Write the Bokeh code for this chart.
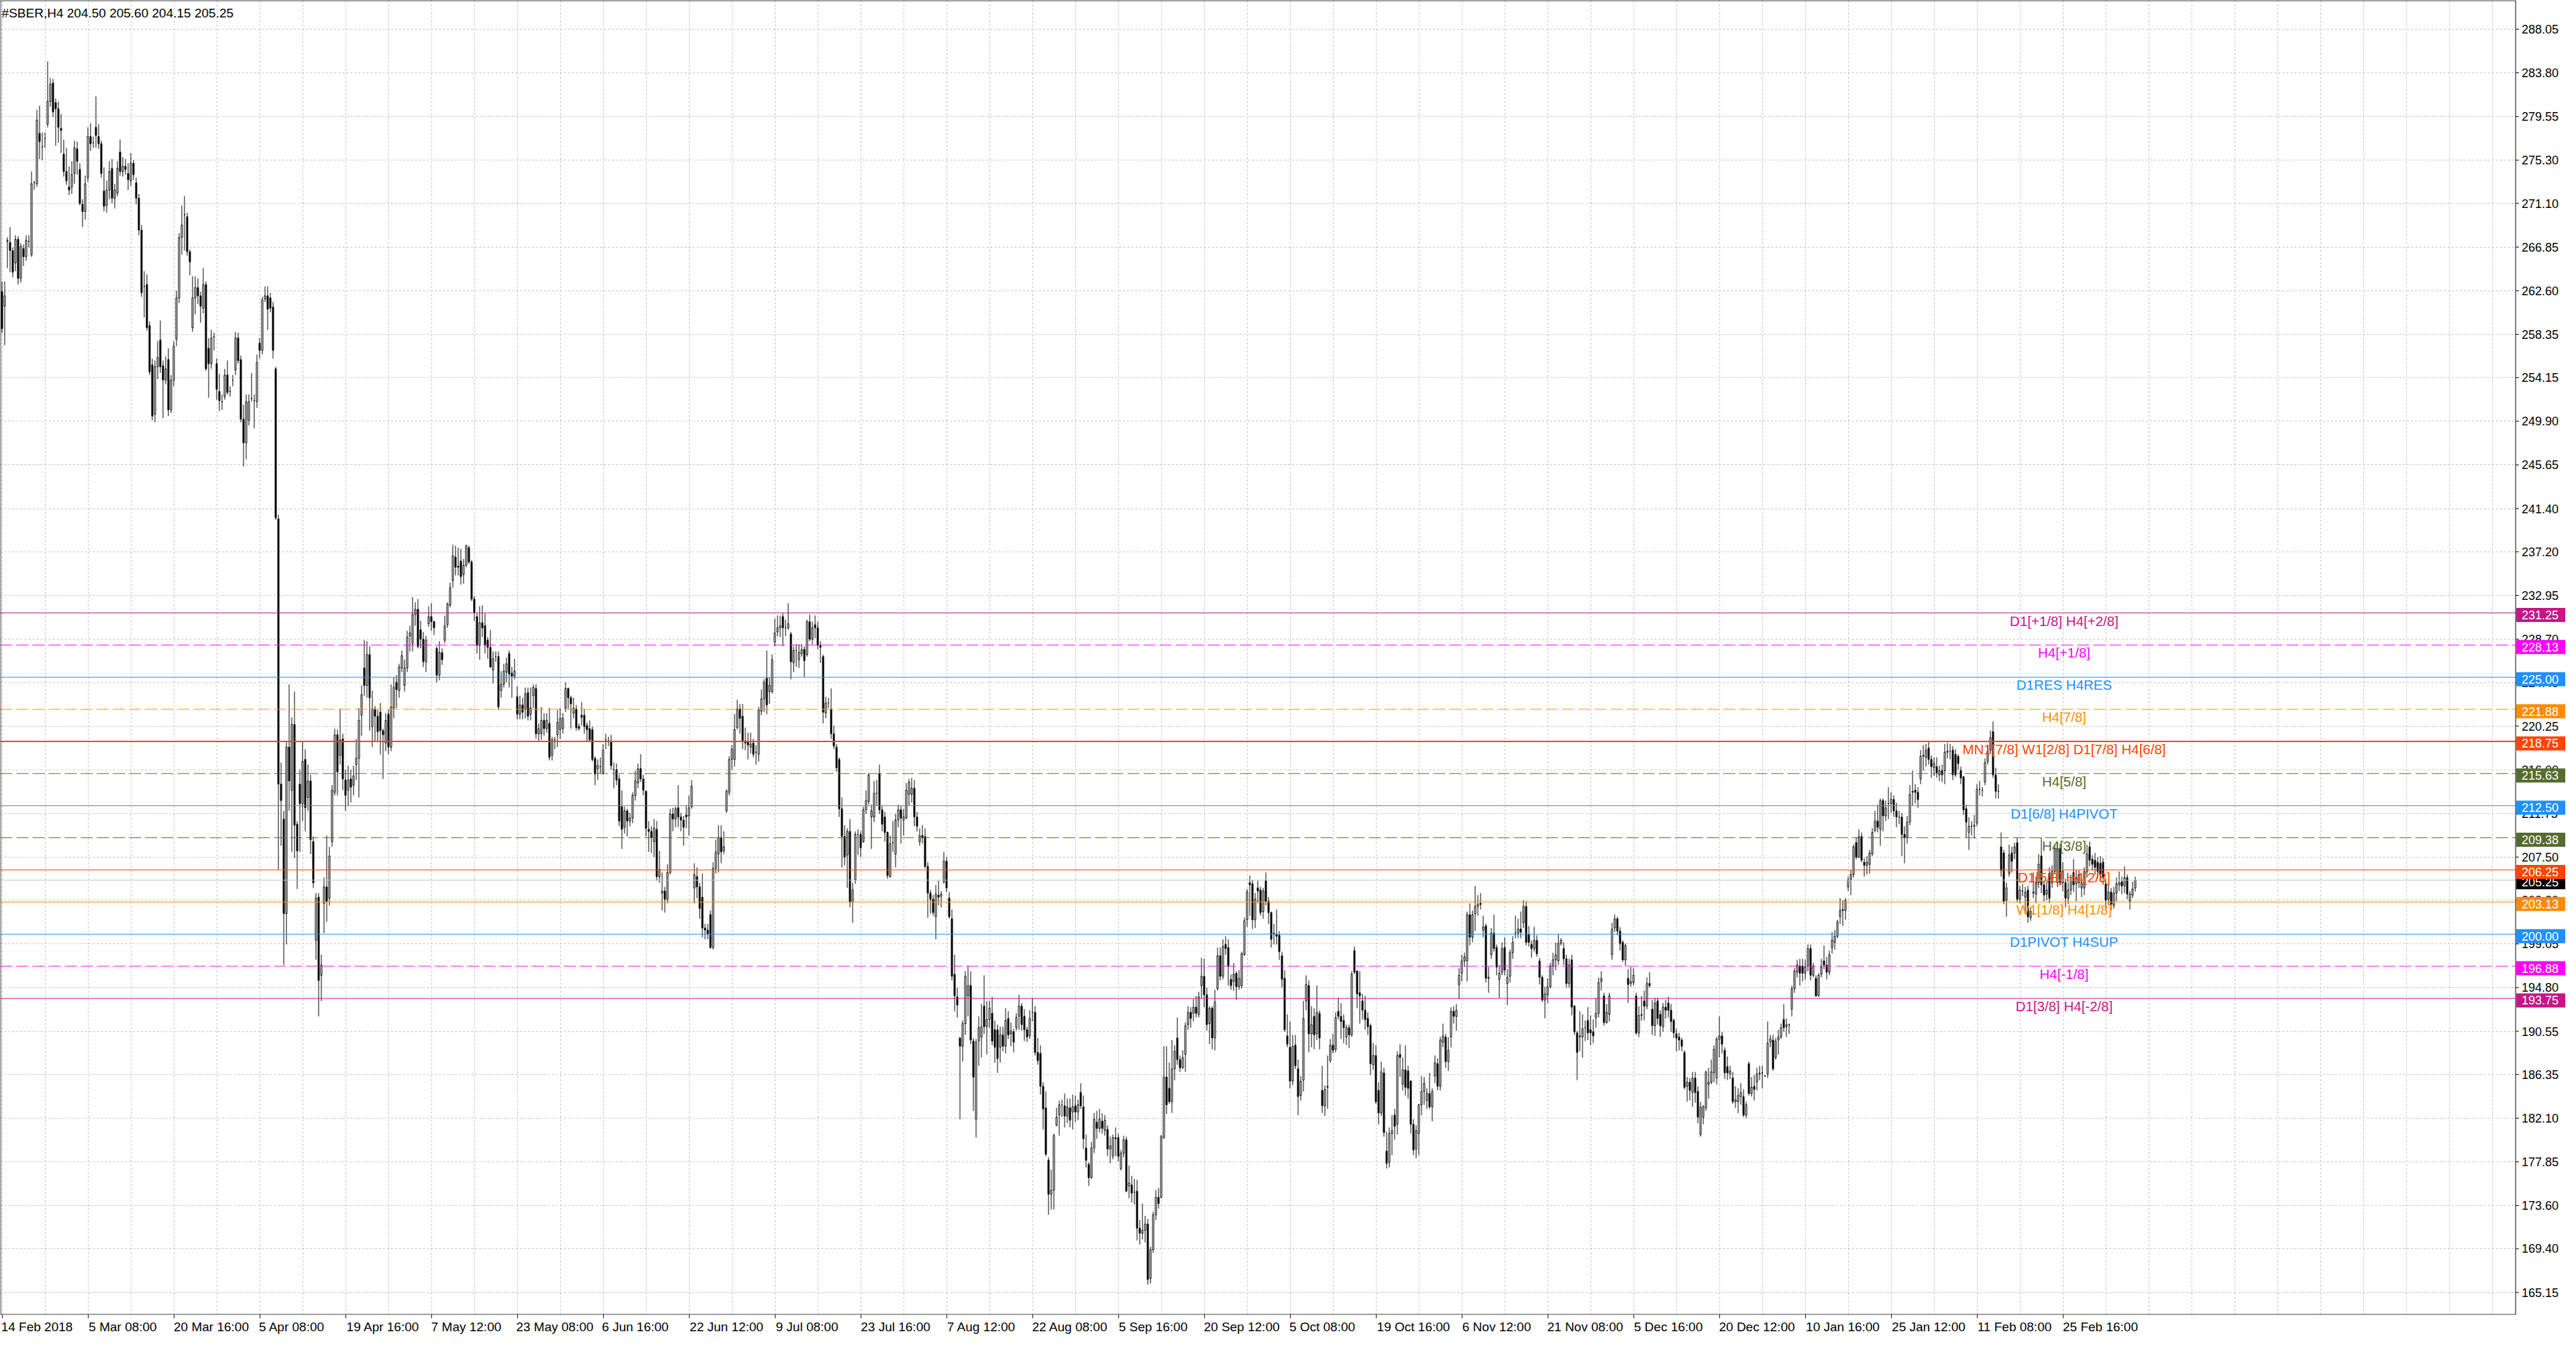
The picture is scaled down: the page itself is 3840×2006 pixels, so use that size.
from bokeh.plotting import figure
from bokeh.models import ColumnDataSource, Label, FixedTicker, Range1d
from bokeh.core.properties import value
from bokeh.embed import file_html
from bokeh.resources import INLINE


chart_title = "#SBER,H4  204.50 205.60 204.15 205.25"

# H4 candles (bar 0 = 14 Feb 2018)
opens = [
    262.5, 261.1, 267.4, 267.3, 266.5, 265.3, 267.6, 263.8, 266.7, 265.9,
    267.4, 266.1, 273.1, 273.0, 277.9, 276.6, 277.4, 278.8, 281.0, 282.8,
    280.9, 280.3, 278.4, 275.9, 274.2, 272.7, 272.7, 274.0, 276.4, 274.4,
    271.0, 270.3, 273.6, 277.6, 277.0, 278.5, 277.6, 276.9, 272.3, 270.9,
    272.4, 274.5, 271.6, 272.1, 276.1, 274.2, 274.7, 274.0, 273.3, 275.0,
    273.1, 271.6, 268.5, 263.0, 263.2, 259.2, 255.4, 250.6, 255.2, 257.8,
    255.3, 253.9, 255.9, 251.0, 253.9, 257.9, 261.9, 267.8, 270.0, 269.8,
    266.4, 259.0, 261.9, 262.9, 262.1, 260.9, 263.2, 257.0, 255.5, 258.1,
    255.5, 252.8, 251.8, 252.3, 254.4, 252.8, 253.9, 254.9, 258.0, 255.9,
    250.1, 247.8, 250.0, 252.1, 251.9, 251.8, 257.5, 256.8, 261.8, 262.1,
    261.9, 261.0, 255.0, 240.4, 214.6, 211.2, 202.0, 218.2, 214.0, 220.4,
    210.7, 214.6, 212.7, 217.0, 213.3, 214.9, 209.0, 199.4, 203.6, 196.0,
    203.0, 204.6, 203.5, 209.0, 213.8, 219.4, 217.4, 219.0, 215.0, 214.0,
    215.1, 214.5, 216.5, 217.1, 221.3, 225.9, 224.2, 227.2, 220.2, 221.9,
    221.2, 221.6, 219.8, 218.6, 221.4, 218.2, 222.0, 224.5, 223.7, 225.9,
    224.2, 225.9, 229.0, 228.3, 231.1, 231.6, 229.6, 228.7, 226.5, 230.2,
    230.9, 230.4, 227.8, 225.2, 227.4, 228.6, 230.1, 232.0, 234.4, 236.7,
    235.8, 236.3, 235.0, 235.9, 237.6, 236.2, 232.6, 230.9, 228.1, 230.3,
    230.0, 228.6, 227.9, 225.7, 227.0, 227.0, 223.7, 224.3, 225.5, 227.3,
    225.4, 225.1, 223.1, 221.4, 222.3, 221.9, 223.5, 221.4, 223.2, 223.9,
    219.5, 219.5, 220.8, 220.0, 220.5, 217.4, 218.9, 219.4, 219.9, 220.0,
    222.0, 223.9, 223.0, 221.5, 221.9, 220.2, 221.3, 221.3, 220.3, 220.0,
    219.9, 217.1, 216.1, 216.3, 215.7, 218.9, 218.8, 218.8, 216.0, 216.0,
    215.1, 212.4, 210.4, 212.0, 211.0, 211.3, 213.5, 214.7, 216.1, 215.1,
    213.9, 210.2, 210.0, 209.0, 210.2, 205.6, 204.0, 204.2, 203.4, 206.0,
    211.7, 211.2, 212.3, 211.4, 211.1, 211.6, 211.5, 212.4, 204.5, 205.6,
    204.6, 203.6, 200.6, 200.4, 201.9, 198.7, 206.4, 207.8, 209.4, 208.1,
    212.0, 213.8, 217.0, 217.0, 220.1, 221.9, 221.2, 218.8, 218.7, 218.2,
    218.6, 217.7, 217.5, 221.7, 222.9, 224.9, 223.6, 223.6, 228.4, 229.4,
    229.8, 230.9, 229.8, 229.8, 229.2, 226.4, 227.6, 226.7, 227.3, 227.7,
    227.2, 230.4, 228.7, 230.1, 229.8, 228.1, 227.0, 221.5, 222.5, 221.9,
    219.5, 218.2, 217.0, 212.2, 209.5, 207.7, 210.0, 203.1, 205.3, 209.7,
    209.7, 209.0, 212.1, 212.9, 211.4, 211.4, 213.7, 215.6, 212.1, 211.4,
    209.9, 205.6, 208.9, 207.8, 211.1, 212.1, 211.1, 211.3, 213.6, 213.6,
    214.2, 211.4, 209.0, 209.6, 209.5, 206.6, 204.0, 203.4, 201.7, 203.8,
    203.7, 205.1, 207.1, 203.5, 201.5, 196.1, 193.9, 189.9, 189.1, 191.3,
    194.0, 195.0, 189.6, 182.0, 189.6, 190.0, 193.0, 191.0, 191.7, 192.3,
    190.7, 190.7, 189.0, 190.2, 189.1, 191.8, 190.3, 190.5, 190.9, 192.0,
    193.0, 192.0, 190.7, 190.1, 192.4, 192.4, 188.5, 188.4, 185.2, 183.1,
    178.0, 174.7, 175.1, 181.4, 182.4, 183.4, 183.3, 182.3, 183.1, 182.7,
    183.3, 182.7, 184.6, 183.2, 179.2, 177.6, 176.3, 179.2, 181.7, 181.1,
    181.8, 180.9, 181.0, 179.1, 178.4, 180.2, 180.2, 177.2, 178.7, 180.0,
    175.5, 175.6, 174.9, 175.0, 171.4, 170.9, 171.2, 171.8, 166.5, 169.3,
    172.7, 174.4, 174.4, 180.2, 186.1, 185.0, 183.7, 186.9, 189.9, 187.8,
    187.0, 188.3, 191.2, 192.4, 192.3, 192.9, 192.2, 195.0, 195.9, 194.1,
    191.3, 192.8, 189.9, 194.7, 197.9, 195.9, 199.0, 198.7, 195.6, 195.4,
    196.2, 194.9, 195.0, 198.0, 201.4, 205.0, 204.9, 201.4, 204.5, 204.3,
    202.2, 205.2, 203.2, 202.1, 200.0, 200.0, 199.9, 197.9, 195.7, 190.1,
    189.0, 185.7, 189.2, 186.9, 184.3, 185.8, 193.5, 195.0, 190.3, 192.0,
    190.3, 192.3, 184.8, 183.3, 185.1, 187.7, 189.2, 188.8, 192.5, 192.0,
    191.6, 190.0, 190.9, 190.2, 198.4, 196.4, 194.3, 193.5, 192.6, 191.8,
    191.1, 187.3, 188.2, 184.8, 182.6, 186.5, 178.9, 177.8, 180.6, 182.4,
    181.5, 188.3, 185.4, 186.8, 186.7, 185.7, 181.5, 179.1, 180.6, 183.4,
    184.7, 183.8, 184.5, 183.2, 186.2, 187.4, 185.2, 189.5, 190.0, 187.6,
    190.0, 192.5, 192.0, 195.1, 196.2, 197.4, 197.4, 201.9, 199.7, 202.0,
    202.7, 203.0, 200.4, 200.8, 195.7, 198.0, 200.1, 198.7, 195.6, 196.3,
    198.7, 195.2, 195.9, 198.2, 200.1, 200.1, 200.5, 201.1, 202.7, 200.0,
    199.0, 198.6, 199.4, 197.4, 195.8, 193.6, 194.1, 194.9, 196.9, 197.5,
    197.4, 199.1, 198.6, 197.6, 195.2, 197.5, 193.0, 190.4, 190.0, 190.0,
    190.9, 191.6, 190.7, 190.5, 191.9, 192.3, 195.4, 194.0, 191.4, 192.2,
    198.0, 200.6, 201.5, 200.3, 199.2, 197.5, 195.7, 195.2, 195.3, 194.0,
    190.4, 192.1, 193.5, 193.0, 195.2, 192.7, 191.1, 193.5, 192.2, 191.0,
    192.9, 193.3, 192.6, 191.6, 190.3, 190.0, 189.7, 188.5, 185.2, 185.6,
    184.6, 186.0, 184.7, 180.5, 182.2, 183.1, 185.4, 185.6, 186.5, 186.0,
    189.8, 190.1, 188.7, 187.1, 186.4, 186.0, 183.7, 183.7, 184.2, 184.2,
    182.4, 187.4, 184.5, 185.2, 185.6, 186.4, 186.5, 186.2, 186.4, 189.5,
    189.7, 188.0, 189.7, 190.0, 191.7, 191.0, 191.2, 192.7, 194.7, 196.3,
    196.9, 196.9, 196.2, 196.9, 198.6, 196.0, 195.7, 194.0, 196.1, 197.4,
    197.0, 196.3, 198.7, 199.2, 199.8, 201.7, 202.4, 202.3, 204.6, 205.3,
    205.8, 208.9, 207.5, 209.5, 207.0, 206.7, 206.8, 207.8, 210.1, 211.0,
    210.2, 213.0, 211.5, 212.7, 212.7, 213.1, 212.0, 211.4, 211.4, 209.7,
    209.4, 210.9, 213.8, 214.0, 213.8, 215.1, 217.3, 217.2, 218.1, 217.0,
    216.2, 216.3, 215.5, 215.9, 215.9, 217.7, 217.8, 217.9, 217.5, 217.3,
    215.9, 215.3, 212.2, 209.9, 210.5, 210.5, 210.8, 214.1, 214.0, 214.8,
    216.8, 217.9, 219.7, 215.5, 213.9, 208.5, 207.9, 203.3, 205.9, 207.9,
    207.9, 208.9, 203.4, 204.2, 203.6, 204.3, 201.6, 204.0, 203.9, 205.0,
    207.6, 204.8, 203.9, 205.9, 205.0, 206.1, 205.0, 208.3, 205.0, 205.0,
    203.5, 204.3, 206.0, 204.9, 205.0, 204.5, 204.5, 206.1, 208.5, 207.3,
    207.2, 207.0, 206.9, 207.0, 204.9, 203.4, 204.1, 202.8, 204.0, 204.8,
    205.1, 204.7, 205.5, 203.2, 203.8, 204.5,
]
highs = [
    263.5, 263.5, 267.8, 268.8, 266.8, 268.0, 267.9, 267.2, 267.1, 268.0,
    268.0, 274.2, 273.3, 280.2, 280.6, 278.0, 278.0, 284.9, 283.3, 283.2,
    281.3, 281.0, 279.8, 277.3, 276.5, 274.7, 275.2, 277.2, 277.1, 275.0,
    271.5, 273.8, 278.5, 278.9, 277.6, 281.5, 278.8, 277.2, 274.6, 273.3,
    275.2, 275.4, 273.0, 275.2, 277.3, 275.6, 275.4, 275.0, 276.0, 275.3,
    273.6, 272.0, 269.0, 264.5, 264.2, 259.6, 256.0, 255.8, 257.7, 259.7,
    255.8, 256.2, 257.0, 254.4, 257.7, 262.6, 268.2, 270.9, 271.8, 270.2,
    266.6, 264.0, 264.0, 263.8, 262.5, 264.8, 263.5, 258.0, 258.8, 258.5,
    256.0, 254.5, 252.5, 255.0, 255.8, 253.3, 254.4, 258.6, 258.5, 256.3,
    251.5, 252.5, 252.5, 254.6, 252.5, 256.4, 258.0, 262.0, 263.0, 263.0,
    262.4, 261.5, 255.2, 240.8, 216.7, 212.0, 218.8, 224.3, 221.1, 223.6,
    211.0, 216.0, 218.7, 218.0, 216.5, 215.5, 209.5, 204.0, 204.0, 198.0,
    205.5, 209.6, 208.5, 214.5, 220.0, 219.9, 221.9, 219.5, 216.0, 216.4,
    216.0, 216.4, 219.0, 222.0, 224.2, 228.6, 228.5, 228.0, 223.7, 222.2,
    221.8, 222.5, 220.0, 221.5, 221.8, 224.3, 225.0, 225.2, 226.3, 227.6,
    226.7, 229.5, 230.0, 232.8, 232.3, 232.6, 230.5, 229.4, 229.0, 231.9,
    232.2, 230.5, 228.0, 228.5, 227.8, 231.0, 232.3, 234.2, 237.9, 237.8,
    237.6, 237.5, 236.5, 237.9, 237.8, 236.4, 232.9, 231.2, 231.9, 232.0,
    231.2, 228.9, 229.6, 227.5, 227.5, 227.5, 225.6, 226.3, 226.9, 227.6,
    226.0, 226.8, 224.1, 223.2, 223.0, 224.0, 224.0, 224.0, 224.3, 224.3,
    220.5, 222.1, 221.5, 221.5, 222.0, 219.2, 219.2, 221.8, 222.0, 221.5,
    224.5, 224.0, 223.2, 223.0, 222.3, 220.5, 222.6, 221.9, 220.6, 220.8,
    220.2, 217.3, 217.0, 217.2, 218.5, 219.5, 219.2, 219.4, 216.7, 216.6,
    215.5, 214.0, 212.4, 212.2, 211.8, 213.8, 215.9, 216.6, 217.5, 215.5,
    214.0, 211.0, 210.5, 211.2, 211.0, 208.1, 206.0, 204.6, 206.8, 212.2,
    212.3, 212.4, 214.5, 211.8, 211.5, 212.5, 213.5, 215.0, 206.9, 206.5,
    205.0, 205.9, 201.0, 201.0, 202.3, 207.0, 209.2, 210.6, 210.6, 210.0,
    214.1, 217.3, 218.4, 221.4, 222.8, 222.4, 222.4, 220.1, 219.6, 219.6,
    219.0, 218.4, 222.1, 223.8, 224.8, 227.6, 225.0, 227.2, 230.7, 231.0,
    231.0, 231.2, 230.6, 232.2, 229.4, 228.0, 228.2, 228.2, 228.2, 228.0,
    230.6, 231.1, 230.4, 231.0, 230.4, 228.5, 227.2, 223.1, 223.0, 223.9,
    220.3, 218.5, 217.2, 213.3, 210.6, 210.3, 211.2, 205.0, 210.0, 210.2,
    210.0, 212.4, 214.0, 215.7, 212.6, 214.9, 215.0, 216.5, 212.5, 211.9,
    210.0, 209.6, 211.0, 211.7, 212.6, 212.5, 212.2, 214.7, 215.1, 215.2,
    215.0, 211.9, 210.3, 210.6, 210.3, 207.0, 204.3, 203.8, 204.8, 205.2,
    204.2, 208.0, 207.5, 204.1, 202.4, 198.0, 194.8, 190.0, 191.6, 196.4,
    196.9, 196.4, 189.9, 189.8, 192.0, 193.2, 196.0, 193.5, 193.5, 193.9,
    191.6, 191.2, 191.0, 191.0, 192.8, 192.5, 191.4, 190.8, 192.3, 194.1,
    193.3, 192.7, 191.0, 192.6, 193.8, 193.0, 189.9, 189.2, 185.6, 184.7,
    178.3, 177.1, 180.6, 183.1, 183.8, 183.9, 184.5, 184.0, 184.0, 184.4,
    184.3, 183.9, 185.5, 184.3, 180.5, 177.8, 179.8, 182.6, 182.8, 183.0,
    182.6, 182.4, 181.4, 180.3, 180.5, 181.2, 180.6, 179.0, 180.4, 180.3,
    177.5, 176.5, 176.2, 176.1, 172.2, 173.8, 172.6, 172.3, 169.6, 173.0,
    175.1, 175.3, 180.5, 189.1, 189.1, 187.5, 189.7, 189.2, 191.9, 188.2,
    188.7, 191.4, 193.0, 192.9, 193.7, 194.0, 194.4, 197.7, 197.6, 194.8,
    193.0, 193.0, 194.6, 198.7, 198.7, 199.5, 199.8, 199.5, 196.1, 197.2,
    196.4, 196.5, 198.3, 201.6, 204.4, 205.7, 205.3, 204.0, 205.2, 204.6,
    204.5, 206.0, 203.6, 202.2, 201.0, 202.4, 200.3, 198.3, 196.5, 192.2,
    191.5, 190.2, 190.2, 187.8, 186.2, 193.5, 196.0, 195.5, 193.0, 192.8,
    195.0, 192.6, 187.2, 185.3, 188.2, 189.8, 190.3, 192.4, 193.8, 193.3,
    192.2, 191.2, 191.2, 196.4, 198.8, 196.5, 196.4, 194.2, 194.0, 192.4,
    191.3, 189.4, 189.2, 185.6, 187.6, 187.0, 180.8, 181.2, 182.4, 183.0,
    188.6, 189.3, 188.0, 189.2, 187.2, 185.8, 182.0, 181.4, 183.5, 186.2,
    186.1, 185.0, 186.5, 185.0, 188.2, 187.9, 190.0, 191.3, 190.3, 190.0,
    192.9, 193.0, 193.2, 196.7, 198.0, 198.2, 202.2, 203.0, 202.3, 204.7,
    203.8, 204.0, 201.8, 201.0, 196.8, 200.6, 201.9, 199.0, 197.0, 199.2,
    199.7, 196.6, 198.5, 199.8, 201.8, 201.5, 202.2, 203.3, 203.2, 200.8,
    199.4, 200.7, 199.9, 197.7, 196.0, 194.9, 195.7, 197.2, 198.2, 199.2,
    200.0, 199.6, 199.2, 198.0, 197.6, 198.0, 193.1, 190.6, 192.5, 192.2,
    191.6, 192.9, 192.1, 191.7, 193.8, 195.8, 196.4, 194.3, 193.2, 194.3,
    201.1, 201.9, 201.7, 200.7, 199.4, 199.1, 196.6, 196.8, 196.7, 194.3,
    193.0, 194.0, 194.5, 195.8, 196.3, 193.6, 193.8, 193.8, 192.6, 193.3,
    193.6, 193.9, 193.2, 191.8, 190.8, 190.4, 189.9, 188.7, 186.1, 186.0,
    186.6, 186.6, 185.2, 183.7, 183.4, 186.7, 187.0, 187.8, 189.2, 190.0,
    192.0, 190.5, 189.0, 188.1, 187.2, 186.6, 185.2, 185.0, 185.5, 184.9,
    183.7, 187.6, 186.1, 186.3, 187.0, 187.2, 187.2, 186.3, 191.5, 190.2,
    190.2, 189.9, 190.7, 191.3, 193.2, 191.8, 191.3, 195.0, 196.7, 197.5,
    197.6, 197.6, 197.5, 199.0, 199.0, 197.2, 196.0, 196.2, 197.6, 198.9,
    197.8, 198.4, 200.2, 200.4, 201.4, 203.5, 203.3, 203.5, 205.6, 206.2,
    208.7, 209.4, 210.2, 209.9, 207.4, 207.6, 208.2, 210.3, 212.0, 212.6,
    213.2, 213.2, 213.0, 214.3, 213.8, 213.5, 212.8, 212.0, 211.8, 210.5,
    211.5, 214.5, 215.9, 214.6, 214.3, 217.9, 218.4, 218.5, 218.8, 217.4,
    217.2, 217.2, 216.4, 216.5, 218.5, 218.6, 218.5, 218.3, 218.0, 217.5,
    216.3, 215.4, 212.6, 211.4, 211.0, 211.6, 214.6, 214.9, 214.3, 217.1,
    218.3, 219.8, 220.7, 216.2, 214.6, 209.9, 208.2, 205.0, 208.7, 208.5,
    208.9, 209.4, 204.7, 204.9, 204.6, 204.7, 202.6, 206.0, 205.6, 207.8,
    209.4, 205.1, 205.1, 206.5, 206.7, 208.7, 208.9, 208.8, 207.0, 205.4,
    205.0, 205.8, 207.3, 206.2, 206.2, 205.6, 206.5, 208.7, 209.0, 207.7,
    207.9, 207.5, 207.6, 207.4, 205.2, 204.8, 204.5, 204.6, 205.5, 206.1,
    205.6, 206.6, 205.8, 204.2, 205.1, 205.6,
]
lows = [
    258.5, 257.3, 264.8, 264.4, 263.9, 264.5, 263.2, 263.4, 265.0, 265.5,
    266.8, 265.9, 272.4, 272.7, 275.4, 275.3, 276.5, 278.5, 280.5, 279.5,
    276.7, 277.0, 276.0, 273.7, 272.9, 271.9, 272.0, 273.0, 273.9, 270.9,
    268.8, 269.5, 273.2, 276.2, 276.5, 276.5, 276.4, 273.6, 270.3, 270.2,
    271.5, 271.1, 270.6, 271.8, 273.8, 273.7, 273.9, 272.4, 272.8, 273.4,
    271.0, 268.0, 262.0, 260.0, 258.7, 254.4, 250.0, 249.8, 254.0, 254.6,
    250.2, 253.5, 250.4, 250.7, 253.3, 257.2, 261.4, 266.1, 266.5, 266.0,
    264.1, 258.6, 260.3, 261.3, 259.5, 260.4, 254.8, 252.2, 255.0, 256.8,
    252.0, 250.9, 251.0, 252.0, 252.5, 252.3, 253.3, 254.4, 255.5, 249.8,
    245.5, 246.2, 249.5, 251.8, 249.2, 251.2, 256.0, 256.4, 261.5, 258.8,
    260.5, 256.0, 240.3, 206.3, 208.6, 197.0, 199.0, 212.0, 208.0, 207.4,
    204.4, 208.0, 211.0, 210.0, 212.0, 207.8, 204.5, 197.5, 192.0, 193.5,
    200.1, 201.2, 202.8, 208.5, 213.5, 213.5, 216.5, 214.0, 212.0, 212.5,
    212.8, 213.5, 215.0, 213.3, 219.3, 223.2, 223.0, 219.8, 218.2, 218.8,
    218.7, 217.5, 215.1, 217.8, 217.5, 217.8, 221.0, 222.0, 223.0, 225.5,
    223.6, 225.5, 227.5, 227.5, 230.0, 227.8, 227.8, 226.0, 225.5, 229.9,
    229.5, 229.1, 224.5, 224.7, 226.2, 228.3, 229.8, 231.8, 233.7, 234.9,
    234.9, 234.0, 234.1, 235.7, 236.0, 232.4, 230.5, 227.3, 226.7, 228.9,
    227.3, 226.8, 225.9, 224.4, 226.5, 221.8, 223.0, 224.0, 224.5, 224.0,
    223.0, 224.8, 220.9, 220.9, 220.9, 221.0, 220.8, 220.8, 222.0, 219.0,
    218.8, 218.9, 219.3, 219.6, 216.9, 216.9, 218.0, 218.2, 219.0, 219.5,
    221.6, 221.9, 220.0, 221.0, 219.8, 219.8, 220.3, 219.5, 218.8, 218.7,
    216.8, 214.5, 215.0, 215.6, 215.5, 218.0, 218.3, 216.0, 214.2, 214.5,
    210.5, 208.3, 209.8, 209.5, 210.5, 210.8, 213.0, 214.2, 214.8, 213.5,
    209.5, 208.0, 207.9, 207.5, 205.2, 205.0, 202.3, 202.1, 203.0, 205.8,
    210.0, 210.4, 210.4, 210.0, 208.6, 210.3, 209.6, 212.2, 203.0, 203.5,
    201.5, 199.7, 199.5, 199.5, 198.6, 198.5, 205.9, 206.0, 206.9, 207.8,
    211.8, 213.5, 216.0, 216.3, 219.9, 219.5, 218.0, 217.9, 217.0, 217.6,
    217.2, 216.5, 216.8, 221.3, 221.6, 221.4, 222.4, 223.4, 228.0, 229.0,
    228.9, 228.0, 229.0, 229.6, 224.8, 225.5, 226.0, 225.9, 227.0, 225.0,
    227.0, 228.5, 228.2, 228.8, 227.7, 226.4, 220.5, 221.0, 222.0, 219.0,
    218.0, 215.8, 211.4, 206.5, 206.7, 204.5, 202.6, 201.1, 204.9, 207.7,
    207.5, 208.9, 211.7, 212.6, 208.3, 210.9, 212.5, 211.7, 210.0, 209.0,
    205.4, 205.5, 208.0, 206.5, 210.4, 208.8, 209.6, 211.2, 212.5, 212.8,
    210.5, 210.0, 208.6, 208.8, 206.4, 201.6, 202.0, 201.8, 199.5, 202.8,
    202.6, 204.9, 204.1, 201.5, 195.5, 192.5, 191.9, 182.0, 187.6, 190.2,
    192.0, 189.3, 182.8, 180.2, 187.2, 188.0, 190.3, 188.3, 190.9, 189.2,
    187.5, 186.5, 187.5, 188.6, 188.4, 189.8, 189.1, 188.5, 190.6, 190.7,
    190.6, 189.6, 189.5, 189.8, 191.5, 188.2, 187.3, 184.4, 181.0, 178.4,
    172.7, 173.2, 173.2, 181.3, 180.4, 182.2, 181.2, 181.6, 181.2, 181.0,
    181.7, 181.9, 183.0, 179.1, 177.3, 175.5, 176.2, 178.7, 180.1, 180.7,
    180.6, 180.4, 178.4, 177.7, 178.1, 178.4, 177.9, 177.0, 178.3, 174.9,
    174.3, 173.9, 173.7, 170.2, 169.8, 170.3, 170.0, 165.9, 166.0, 169.0,
    172.2, 173.3, 174.3, 180.1, 182.5, 183.5, 182.6, 185.8, 187.3, 186.6,
    186.9, 186.6, 190.7, 190.9, 191.5, 191.9, 191.9, 193.8, 192.9, 190.6,
    189.3, 188.8, 188.7, 194.5, 195.5, 195.6, 198.0, 195.0, 194.6, 194.5,
    193.6, 194.6, 194.7, 197.9, 200.7, 201.8, 200.5, 200.6, 203.0, 201.8,
    201.5, 202.8, 201.0, 198.7, 199.0, 199.0, 197.5, 194.8, 190.5, 189.0,
    185.0, 185.3, 186.9, 182.4, 183.8, 184.7, 192.6, 188.5, 189.0, 188.8,
    189.7, 188.8, 182.6, 182.3, 183.0, 187.5, 188.4, 188.5, 191.7, 189.8,
    189.4, 189.2, 188.9, 190.0, 196.1, 192.8, 191.3, 191.7, 190.7, 190.2,
    186.3, 186.8, 183.5, 181.5, 182.3, 180.3, 177.2, 177.3, 178.5, 180.0,
    180.5, 186.1, 184.8, 184.3, 184.0, 180.6, 178.5, 178.2, 178.5, 182.4,
    183.4, 183.0, 183.0, 181.8, 185.5, 184.8, 184.8, 189.0, 187.0, 186.7,
    189.0, 191.3, 190.6, 193.7, 195.4, 196.8, 195.4, 198.9, 199.2, 200.3,
    201.8, 202.4, 199.7, 195.3, 194.3, 197.6, 198.3, 196.0, 193.8, 196.0,
    196.0, 193.1, 195.3, 197.6, 199.6, 199.6, 199.6, 200.6, 198.9, 198.8,
    197.7, 198.3, 197.8, 195.1, 193.4, 191.8, 193.3, 194.7, 196.0, 196.5,
    197.0, 198.9, 197.0, 194.8, 194.8, 192.1, 190.2, 185.8, 188.6, 188.0,
    189.6, 189.7, 189.2, 189.4, 190.9, 191.9, 194.5, 191.1, 191.3, 191.5,
    197.5, 200.2, 199.9, 198.4, 197.3, 196.9, 193.3, 194.9, 195.0, 190.2,
    190.0, 191.6, 191.6, 192.7, 194.8, 190.2, 190.1, 191.2, 190.0, 190.5,
    191.8, 191.9, 190.5, 189.9, 188.6, 188.7, 188.6, 184.9, 183.7, 183.8,
    183.2, 183.6, 181.6, 180.3, 181.5, 182.8, 184.0, 185.4, 185.6, 185.4,
    188.0, 188.4, 185.9, 185.8, 185.9, 183.5, 183.1, 182.6, 183.4, 182.2,
    182.1, 184.3, 184.2, 183.8, 184.8, 185.8, 185.0, 186.1, 186.0, 189.0,
    186.7, 187.8, 188.3, 189.8, 190.5, 190.0, 190.3, 192.0, 194.3, 195.8,
    195.0, 195.4, 195.6, 196.4, 195.5, 195.8, 193.9, 193.9, 195.8, 196.6,
    195.6, 196.0, 198.1, 198.5, 199.6, 201.0, 200.8, 201.4, 204.2, 203.8,
    205.5, 207.3, 207.4, 207.0, 205.6, 205.8, 205.9, 207.6, 209.9, 209.9,
    208.6, 210.0, 211.0, 211.2, 211.8, 211.4, 210.4, 210.7, 207.6, 206.9,
    208.8, 210.6, 212.5, 212.7, 212.3, 214.6, 215.9, 216.3, 216.5, 215.2,
    215.4, 215.2, 214.9, 214.8, 214.6, 217.1, 217.0, 215.0, 215.3, 216.0,
    214.6, 211.6, 209.4, 208.2, 209.6, 209.3, 210.5, 213.5, 213.4, 214.5,
    216.5, 217.6, 215.2, 213.2, 213.2, 205.6, 202.9, 201.7, 205.6, 206.0,
    207.3, 203.1, 203.0, 203.7, 202.2, 201.1, 201.3, 203.5, 203.0, 204.5,
    204.0, 203.2, 203.3, 203.0, 204.5, 205.8, 204.6, 204.8, 204.2, 202.6,
    202.9, 203.8, 204.1, 203.2, 204.5, 203.6, 203.8, 205.5, 206.6, 206.2,
    205.8, 205.4, 205.3, 204.8, 202.5, 202.8, 202.3, 202.5, 203.2, 204.2,
    203.9, 204.0, 203.4, 202.4, 203.5, 204.15,
]
closes = [
    258.9, 262.1, 267.5, 266.5, 264.4, 267.6, 263.8, 266.9, 265.9, 267.5,
    267.4, 273.0, 273.1, 279.2, 277.1, 276.6, 277.4, 281.0, 282.7, 280.0,
    280.3, 278.5, 278.2, 274.2, 273.3, 272.4, 273.9, 276.5, 275.2, 271.1,
    270.3, 273.0, 277.6, 276.9, 277.0, 277.7, 276.9, 274.0, 270.8, 272.4,
    274.2, 271.6, 272.4, 274.5, 274.2, 274.7, 274.4, 273.4, 275.0, 273.9,
    271.6, 268.5, 262.4, 263.0, 259.0, 254.7, 250.4, 255.2, 256.1, 255.2,
    253.9, 255.0, 251.0, 253.9, 257.2, 261.9, 267.8, 269.0, 270.0, 266.4,
    265.4, 261.9, 262.9, 262.1, 261.1, 263.2, 255.0, 255.5, 258.0, 258.1,
    253.0, 251.9, 251.8, 254.4, 252.7, 252.8, 253.9, 258.0, 255.8, 250.1,
    247.8, 251.8, 251.8, 252.1, 251.9, 255.6, 256.8, 261.7, 262.1, 260.8,
    260.9, 256.8, 240.5, 214.6, 213.0, 202.0, 218.2, 214.9, 220.4, 210.6,
    208.1, 212.7, 216.8, 212.3, 214.9, 209.2, 205.0, 203.5, 195.5, 197.0,
    204.6, 203.2, 207.6, 214.0, 219.4, 215.8, 218.9, 215.1, 213.5, 215.0,
    214.3, 215.4, 217.1, 220.8, 223.3, 224.2, 227.2, 223.0, 221.9, 221.2,
    219.7, 219.8, 219.4, 220.8, 218.2, 222.1, 224.0, 223.8, 226.0, 227.1,
    225.9, 228.9, 229.3, 231.1, 231.6, 228.0, 228.7, 226.5, 228.6, 230.9,
    230.4, 229.8, 225.2, 227.4, 226.7, 230.0, 232.1, 233.7, 236.8, 235.7,
    235.7, 234.8, 235.9, 237.8, 236.2, 232.6, 231.3, 228.1, 230.3, 229.8,
    228.1, 227.9, 226.0, 226.8, 227.0, 222.1, 224.3, 225.6, 226.3, 225.3,
    225.1, 225.6, 221.4, 222.3, 221.6, 223.4, 221.2, 222.0, 224.0, 219.5,
    220.0, 220.8, 220.0, 220.8, 217.2, 218.9, 218.9, 220.6, 221.0, 221.0,
    223.9, 223.0, 222.4, 222.0, 220.1, 220.0, 221.1, 220.2, 219.9, 218.9,
    217.0, 215.6, 216.4, 216.3, 217.9, 218.9, 218.8, 216.4, 216.0, 215.0,
    211.0, 210.2, 212.0, 211.0, 211.3, 213.5, 214.9, 216.1, 215.1, 214.0,
    210.3, 210.0, 209.4, 210.3, 205.6, 206.3, 204.2, 203.4, 206.0, 211.7,
    211.2, 212.2, 211.4, 211.1, 210.4, 211.4, 212.3, 214.4, 205.8, 204.6,
    202.5, 200.6, 200.4, 200.0, 198.7, 206.4, 208.0, 209.4, 208.0, 208.5,
    213.9, 217.0, 218.0, 219.9, 221.9, 221.0, 218.8, 218.6, 218.4, 218.5,
    217.5, 217.7, 221.8, 222.9, 224.5, 222.3, 224.2, 226.7, 229.3, 229.8,
    230.0, 229.8, 229.8, 230.2, 226.5, 227.6, 227.6, 227.4, 227.7, 226.6,
    230.4, 228.7, 229.8, 229.8, 228.1, 227.9, 221.6, 222.5, 222.5, 219.5,
    218.3, 216.2, 212.2, 209.5, 207.5, 210.0, 203.1, 204.3, 209.7, 209.7,
    208.4, 212.1, 213.0, 215.5, 212.0, 213.7, 213.7, 212.1, 210.7, 209.9,
    205.7, 208.8, 208.9, 211.1, 212.1, 211.3, 211.4, 214.0, 214.8, 214.2,
    211.4, 210.5, 209.6, 209.4, 206.6, 204.0, 203.4, 202.1, 203.9, 203.6,
    203.9, 207.1, 204.5, 201.7, 195.9, 194.0, 193.1, 189.1, 191.3, 195.9,
    195.0, 189.7, 186.1, 189.5, 190.9, 191.0, 191.0, 191.7, 192.8, 189.6,
    189.0, 187.9, 190.2, 189.1, 191.6, 190.2, 190.6, 189.5, 191.9, 193.0,
    191.2, 190.7, 190.0, 191.8, 192.4, 188.5, 187.7, 185.2, 183.0, 178.6,
    174.7, 175.1, 180.4, 182.2, 183.4, 183.4, 182.3, 183.2, 181.9, 183.2,
    182.7, 183.4, 183.3, 180.1, 178.0, 176.3, 179.2, 182.0, 181.1, 182.0,
    181.1, 181.9, 179.1, 179.4, 180.2, 180.1, 178.4, 178.7, 180.0, 175.0,
    175.8, 174.8, 174.9, 171.4, 170.9, 171.2, 171.8, 166.4, 169.3, 172.7,
    174.4, 173.8, 180.3, 186.1, 183.4, 183.7, 186.9, 188.6, 187.8, 187.0,
    188.0, 191.1, 192.4, 191.8, 192.9, 192.3, 193.9, 195.9, 194.1, 191.2,
    192.8, 189.9, 193.4, 197.9, 195.9, 198.8, 198.6, 196.9, 195.0, 196.1,
    194.9, 195.7, 198.1, 201.3, 204.1, 204.8, 201.4, 203.4, 204.2, 202.1,
    204.2, 203.2, 202.1, 199.5, 200.1, 199.8, 198.3, 195.6, 190.7, 189.3,
    185.7, 189.1, 187.2, 184.2, 185.7, 191.8, 195.1, 190.3, 191.2, 190.2,
    192.4, 189.9, 183.3, 184.9, 185.2, 189.2, 188.7, 191.9, 192.0, 191.5,
    190.9, 190.9, 190.2, 196.1, 196.3, 194.2, 194.0, 192.6, 191.7, 191.0,
    187.4, 188.2, 183.7, 182.6, 186.6, 180.7, 177.7, 180.6, 180.9, 181.3,
    188.2, 188.0, 186.8, 185.1, 185.0, 181.5, 179.0, 180.9, 183.4, 184.7,
    185.5, 184.5, 183.2, 184.7, 187.5, 185.2, 189.7, 190.1, 187.6, 188.7,
    192.5, 192.0, 192.6, 196.0, 197.4, 197.8, 201.9, 199.7, 201.9, 202.7,
    202.9, 202.9, 200.7, 195.7, 195.8, 200.1, 198.6, 196.8, 196.2, 198.6,
    196.5, 195.8, 198.2, 199.2, 200.1, 200.5, 200.2, 202.7, 199.2, 199.2,
    198.6, 199.4, 198.1, 195.8, 193.6, 194.2, 194.9, 196.9, 197.5, 198.0,
    199.1, 199.4, 197.6, 195.2, 197.0, 192.9, 190.5, 188.5, 190.1, 190.8,
    190.9, 190.4, 190.4, 190.1, 192.3, 195.3, 195.7, 191.4, 192.4, 194.0,
    200.5, 201.5, 200.3, 199.1, 197.5, 198.9, 195.1, 195.4, 196.0, 190.4,
    192.1, 192.2, 193.0, 195.2, 195.0, 191.1, 193.3, 191.8, 191.1, 192.9,
    192.6, 192.6, 191.5, 190.4, 189.9, 189.7, 189.1, 185.1, 185.6, 184.8,
    186.0, 184.6, 182.2, 183.2, 183.2, 186.6, 185.6, 186.6, 188.8, 189.8,
    190.1, 189.3, 186.5, 186.5, 186.7, 183.7, 183.9, 184.3, 184.6, 182.4,
    183.4, 184.5, 185.1, 184.9, 186.4, 186.5, 186.5, 186.2, 189.4, 189.8,
    186.9, 189.6, 190.0, 190.9, 190.9, 191.2, 191.2, 194.7, 196.4, 197.0,
    196.2, 196.2, 196.8, 198.6, 196.0, 196.9, 194.0, 196.0, 196.8, 197.0,
    196.3, 198.0, 199.4, 199.8, 201.2, 202.3, 202.3, 203.3, 205.3, 205.8,
    208.5, 207.5, 209.5, 207.2, 206.7, 207.0, 207.9, 209.9, 211.0, 210.4,
    213.0, 211.5, 212.3, 212.7, 213.1, 212.0, 211.4, 211.4, 209.7, 209.4,
    210.9, 213.6, 213.9, 213.8, 213.1, 217.3, 217.4, 217.9, 217.0, 216.3,
    216.6, 215.7, 215.9, 215.5, 217.7, 217.8, 217.8, 215.5, 215.5, 216.6,
    215.2, 212.1, 210.9, 210.5, 210.5, 210.6, 214.1, 214.1, 214.0, 216.7,
    217.8, 219.1, 215.5, 213.9, 213.9, 206.2, 203.2, 204.5, 207.7, 207.1,
    208.5, 203.4, 204.3, 204.2, 204.1, 201.7, 202.2, 204.1, 205.0, 206.8,
    204.8, 203.8, 204.3, 203.5, 206.1, 208.3, 208.3, 205.0, 206.1, 203.5,
    204.3, 205.3, 204.8, 205.5, 205.8, 205.0, 206.1, 207.8, 207.2, 206.8,
    206.5, 206.1, 205.8, 205.5, 203.3, 204.1, 202.9, 204.0, 204.9, 205.0,
    204.7, 205.5, 203.9, 203.9, 204.4, 205.25,
]

# time axis: one label every 32 bars
date_labels = [
    "14 Feb 2018", "5 Mar 08:00", "20 Mar 16:00", "5 Apr 08:00", "19 Apr 16:00",
    "7 May 12:00", "23 May 08:00", "6 Jun 16:00", "22 Jun 12:00", "9 Jul 08:00",
    "23 Jul 16:00", "7 Aug 12:00", "22 Aug 08:00", "5 Sep 16:00", "20 Sep 12:00",
    "5 Oct 08:00", "19 Oct 16:00", "6 Nov 12:00", "21 Nov 08:00", "5 Dec 16:00",
    "20 Dec 12:00", "10 Jan 16:00", "25 Jan 12:00", "11 Feb 08:00", "25 Feb 16:00",
]
bars_per_label = 32

price_ticks = [
    288.05, 283.80, 279.55, 275.30, 271.10, 266.85, 262.60, 258.35, 254.15, 249.90,
    245.65, 241.40, 237.20, 232.95, 228.70, 224.45, 220.25, 216.00, 211.75, 207.50,
    203.30, 199.05, 194.80, 190.55, 186.35, 182.10, 177.85, 173.60, 169.40, 165.15,
]

# levels drawn on the chart
levels = [231.25, 228.13, 225.00, 221.88, 218.75, 215.63, 212.50,
          209.38, 206.25, 203.13, 200.00, 196.88, 193.75]
level_names = ["D1[+1/8] H4[+2/8]", "H4[+1/8]", "D1RES H4RES", "H4[7/8]",
               "MN1[7/8] W1[2/8] D1[7/8] H4[6/8]", "H4[5/8]", "D1[6/8] H4PIVOT",
               "H4[3/8]", "D1[5/8] H4[2/8]", "W1[1/8] H4[1/8]", "D1PIVOT H4SUP",
               "H4[-1/8]", "D1[3/8] H4[-2/8]"]
level_colors = ["#C71585", "#FF00FF", "#1E90FF", "#FF8C00", "#FF4500", "#556B2F", "#1E90FF",
                "#556B2F", "#FF4500", "#FF8C00", "#1E90FF", "#FF00FF", "#C71585"]
level_dashed = [False, True, False, True, False, True, False,
                True, False, False, False, True, False]
level_widths = [1, 1, 1, 1, 2, 1, 1, 1, 1, 1, 1, 1, 1]
last_price = 205.25
label_bar = 768.5   # where the level names sit

FONT = "Liberation Sans"
W, H = 3824, 1990
PPB = 4.0                     # pixels per bar, bars land on pixel centres
X0 = -0.625
X1 = X0 + W / PPB
AXIS_X = 936.75               # price scale line
Y0, Y1 = 162.97, 290.85
PPU = 1962 / (Y1 - Y0)        # pixels per price unit

ARIAL = {" ": .278, ":": .278, "F": .611, "M": .833, "A": .667, "J": .5, "S": .667,
         "O": .778, "N": .722, "D": .722, "a": .556, "b": .556, "c": .5, "e": .556,
         "g": .556, "l": .222, "n": .556, "o": .556, "p": .556, "r": .333, "t": .278,
         "u": .556, "v": .5, "y": .5}


def text_width(s, size):
    return sum(ARIAL.get(ch, .556) for ch in s) * size


n = len(closes)
src = ColumnDataSource(data=dict(
    x=list(range(n)),
    high=highs,
    low=lows,
    top=[max(o, c) for o, c in zip(opens, closes)],
    bottom=[min(o, c) for o, c in zip(opens, closes)],
    fill=["white" if c > o else "black" for o, c in zip(opens, closes)],
))

p = figure(width=W, height=H, x_range=Range1d(X0, X1), y_range=Range1d(Y0, Y1),
           y_axis_location=None, output_backend="svg", toolbar_location=None,
           min_border_left=0, min_border_top=0, min_border_right=0, min_border_bottom=28)
p.background_fill_color = "white"
p.border_fill_color = "white"
p.outline_line_color = None

# grid
p.xgrid.ticker = FixedTicker(ticks=list(range(0, 937, 16)))
p.ygrid.ticker = FixedTicker(ticks=price_ticks)
for g in (p.xgrid, p.ygrid):
    g.grid_line_color = "#C0C0C0"
    g.grid_line_dash = "3 3"
    g.grid_line_width = 1

# time axis: labels start at the tick, so centre them half a label to the right
tick_pos = [k * bars_per_label for k in range(len(date_labels))]
centers = [t + int(round(text_width(s, 19) / 2 / PPB)) for t, s in zip(tick_pos, date_labels)]
xax = p.xaxis[0]
xax.ticker = FixedTicker(ticks=centers, minor_ticks=tick_pos)
xax.major_label_overrides = {c: s for c, s in zip(centers, date_labels)}
xax.major_label_text_font = FONT
xax.major_label_text_font_size = "19px"
xax.major_label_text_color = "black"
xax.major_tick_out = 0
xax.major_tick_in = 0
xax.minor_tick_out = 5
xax.minor_tick_in = 0
xax.minor_tick_line_color = "black"
xax.major_label_standoff = 2
xax.axis_line_color = None

# blank price-scale strip right of the chart
p.quad(left=[AXIS_X], right=[X1 + 5], bottom=[Y0 - 5], top=[Y1 + 5],
       fill_color="white", line_color=None)

# candles
p.segment(x0="x", y0="low", x1="x", y1="high", source=src, line_color="black", line_width=1)
p.vbar(x="x", width=0.5, top="top", bottom="bottom", source=src,
       fill_color="fill", line_color="black", line_width=1)

# level lines (stop at the price scale)
p.segment(x0=[X0], x1=[AXIS_X], y0=[last_price], y1=[last_price], line_color="#C0C0C0", line_width=1)
for lv, col, dashed, lw in zip(levels, level_colors, level_dashed, level_widths):
    p.segment(x0=[X0], x1=[AXIS_X], y0=[lv], y1=[lv], line_color=col, line_width=lw,
              line_dash="18 6" if dashed else "solid")

# chart border and price scale
half_x = 0.5 / PPB
half_y = 0.5 / PPU
p.segment(x0=[X0 + half_x, X0, X0, AXIS_X], x1=[X0 + half_x, AXIS_X, AXIS_X, AXIS_X],
          y0=[Y0, Y1 - half_y, Y0 + half_y, Y0], y1=[Y1, Y1 - half_y, Y0 + half_y, Y1],
          line_color="black", line_width=1)
p.segment(x0=[AXIS_X] * len(price_ticks), x1=[AXIS_X + 5 / PPB] * len(price_ticks),
          y0=price_ticks, y1=price_ticks, line_color="black", line_width=1)
p.text(x=[AXIS_X + 9 / PPB] * len(price_ticks), y=price_ticks,
       text=[f"{t:.2f}" for t in price_ticks], text_align="left", text_baseline="middle",
       text_font=value(FONT), text_font_size=value("18px"), text_color="black")

# coloured price tags on the scale (sit a few pixels below their level)
box_cx = AXIS_X + 39 / PPB
text_x = AXIS_X + 9 / PPB
tag_drop = 3 / PPU
tag_prices = [last_price] + levels
tag_colors = ["black"] + level_colors
for pr, col in zip(tag_prices, tag_colors):
    p.rect(x=[box_cx], y=[pr - tag_drop], width=76, height=21,
           width_units="screen", height_units="screen", fill_color=col, line_color=None)
    p.text(x=[text_x], y=[pr - tag_drop], text=[f"{pr:.2f}"], text_align="left",
           text_baseline="middle", text_font=value(FONT), text_font_size=value("18px"),
           text_color="white")

# level names
for lv, name, col in zip(levels, level_names, level_colors):
    p.add_layout(Label(x=label_bar, y=lv, text=name, text_align="center", text_baseline="top",
                       text_font=FONT, text_font_size="20.5px", text_color=col))

# symbol / OHLC header
p.add_layout(Label(x=-0.1, y=290.30, text=chart_title, text_align="left", text_baseline="top",
                   text_font=FONT, text_font_size="19px", text_color="black"))

open("out.html", "w").write(file_html(p, INLINE))
